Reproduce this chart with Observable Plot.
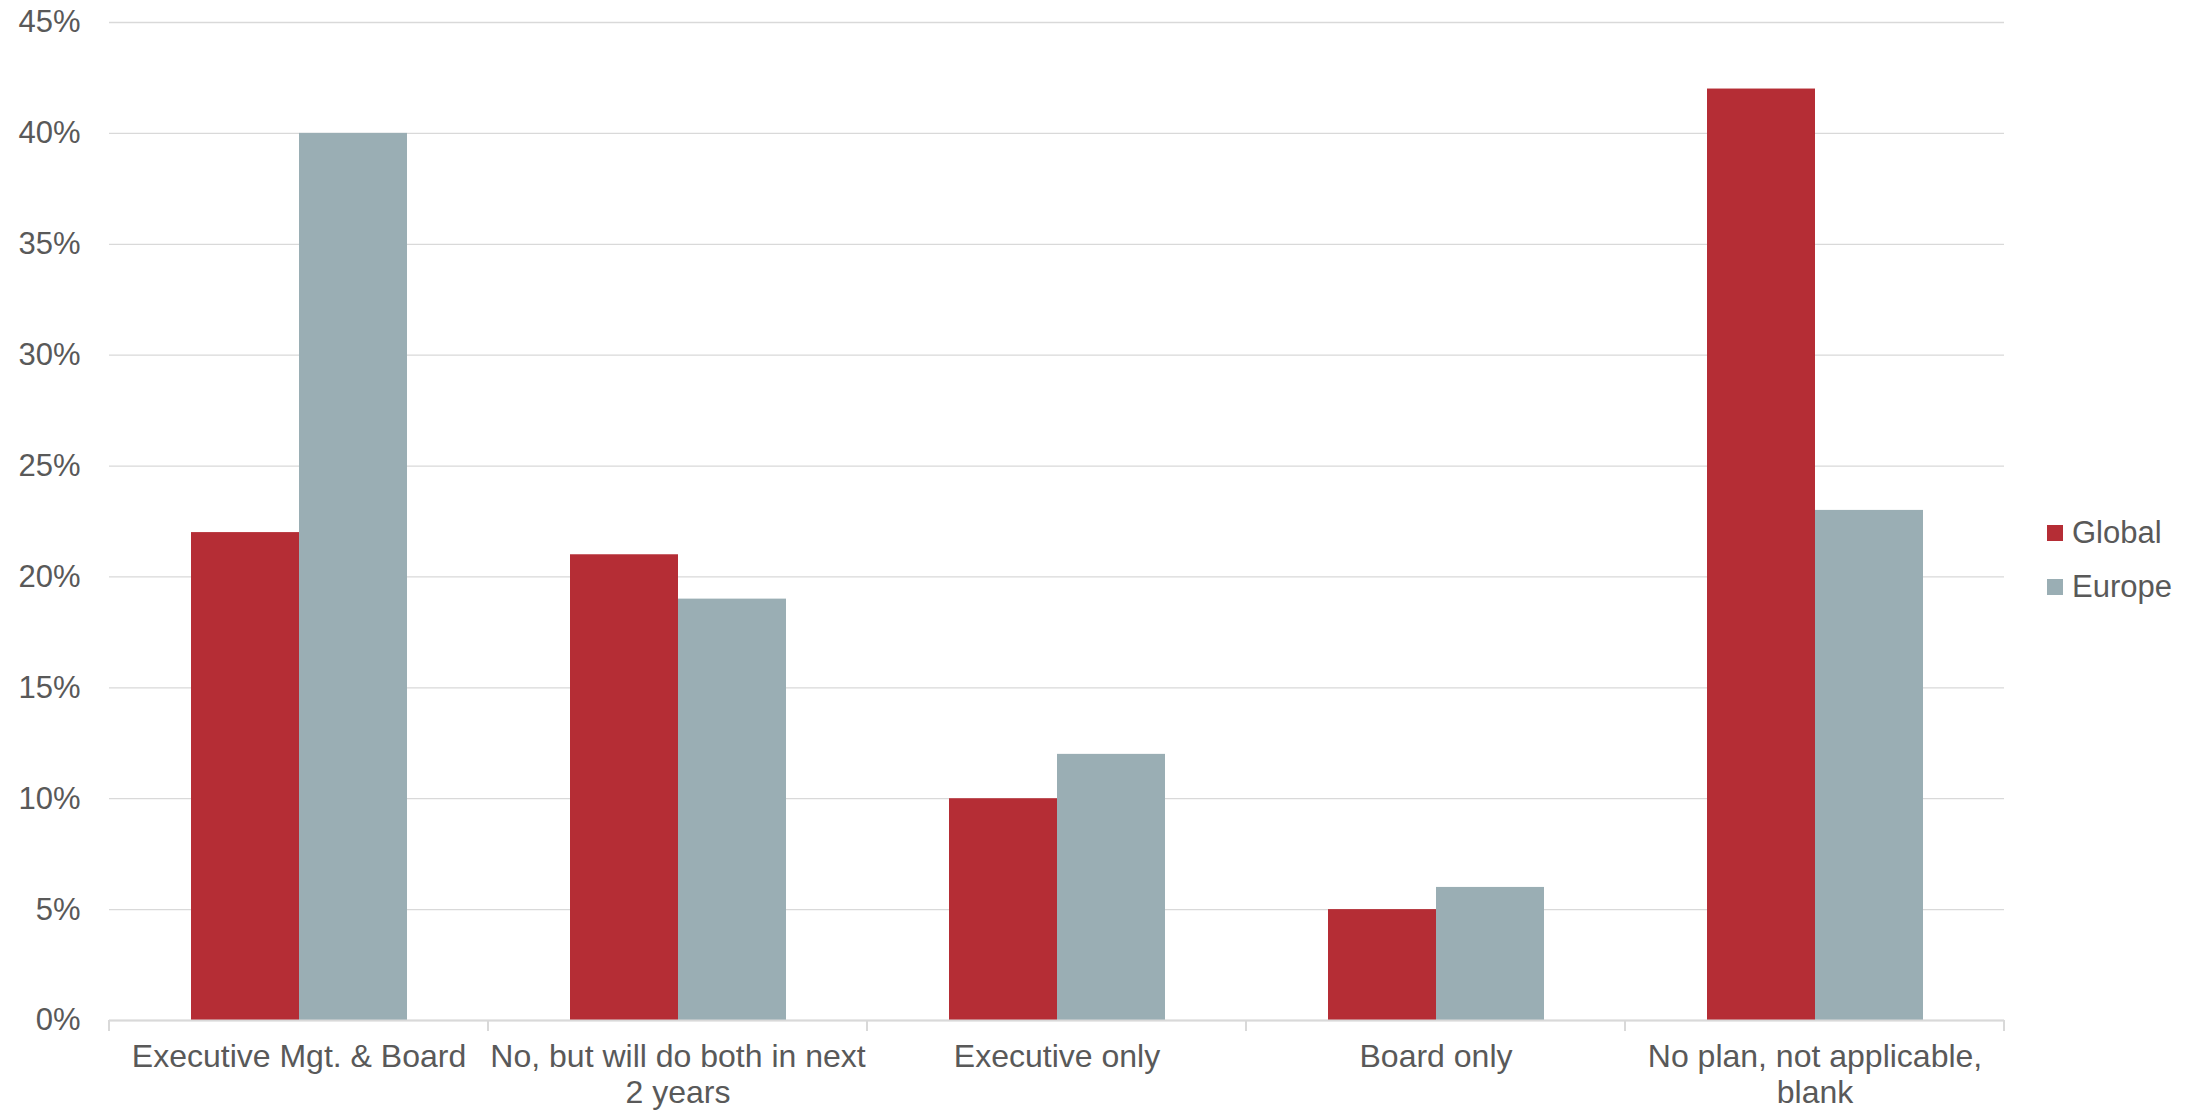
<!DOCTYPE html>
<html>
<head>
<meta charset="utf-8">
<script src="https://cdn.jsdelivr.net/npm/d3@7"></script>
<script src="https://cdn.jsdelivr.net/npm/@observablehq/plot@0.6"></script>
<style>
  html, body { margin: 0; padding: 0; background: #ffffff; overflow: hidden; }
  #wrap { position: relative; width: 2200px; height: 1111px; }
  #legend { position: absolute; left: 2047px; top: 506px; font-family: "Liberation Sans", Arial, sans-serif; font-size: 31px; color: #595959; }
  .item { height: 54px; display: flex; align-items: center; }
  .sw { width: 16px; height: 16px; margin-right: 9px; }
</style>
</head>
<body>
<div id="wrap"><div id="legend"></div></div>
<script>
const categories = ["Executive Mgt. & Board", "No, but will do both in next 2 years", "Executive only", "Board only", "No plan, not applicable, blank"];
const tickLabels = ["Executive Mgt. & Board", "No, but will do both in next\n2 years", "Executive only", "Board only", "No plan, not applicable,\nblank"];
const series = ["Global", "Europe"];
const globalValues = [22, 21, 10, 5, 42];
const europeValues = [40, 19, 12, 6, 23];
const yTicks = [0, 5, 10, 15, 20, 25, 30, 35, 40, 45];
const colors = ["#B52D35", "#9AAEB4"];

const data = categories.flatMap((c, i) => [
  {category: c, series: "Global", value: globalValues[i]},
  {category: c, series: "Europe", value: europeValues[i]}
]);
const labelMap = new Map(categories.map((c, i) => [c, tickLabels[i]]));

const plot = Plot.plot({
  width: 2200,
  height: 1111,
  marginLeft: 109,
  marginRight: 196,
  marginTop: 22,
  marginBottom: 91,
  style: {fontFamily: "'Liberation Sans', Arial, sans-serif", fontSize: "31px", color: "#595959", background: "transparent"},
  fx: {domain: categories, padding: 0, label: null},
  x: {domain: series, paddingInner: 0, paddingOuter: 0.74, axis: null},
  y: {domain: [0, 45], label: null},
  color: {domain: series, range: colors},
  marks: [
    Plot.gridY(yTicks, {stroke: "#d9d9d9", strokeOpacity: 1, strokeWidth: 1.3}),
    Plot.axisY(yTicks, {tickSize: 0, tickPadding: 29, tickFormat: d => d + "%", label: null}),
    Plot.barY(data, {fx: "category", x: "series", y: "value", fill: "series", inset: 0}),
    Plot.ruleY([0], {stroke: "#d9d9d9", strokeWidth: 2}),
    Plot.axisFx({anchor: "bottom", tickSize: 0, tickPadding: 20, fontSize: 32, lineHeight: 1.15, tickFormat: d => labelMap.get(d), label: null})
  ]
});

// boundary ticks along the category axis, positioned from the fx scale
const fx = plot.scale("fx");
const svg = d3.select(plot.tagName.toLowerCase() === "svg" ? plot : plot.querySelector("svg"));
const y0 = plot.scale("y").apply(0);
const edges = categories.map(c => fx.apply(c)).concat([fx.apply(categories[categories.length - 1]) + fx.bandwidth]);
svg.append("g").selectAll("line").data(edges).join("line")
  .attr("x1", d => d).attr("x2", d => d)
  .attr("y1", y0).attr("y2", y0 + 11)
  .attr("stroke", "#d9d9d9").attr("stroke-width", 2);

document.getElementById("wrap").prepend(plot);

const legend = d3.select("#legend");
series.forEach((s, i) => {
  const item = legend.append("div").attr("class", "item");
  item.append("div").attr("class", "sw").style("background", colors[i]);
  item.append("span").text(s);
});
</script>
</body>
</html>
